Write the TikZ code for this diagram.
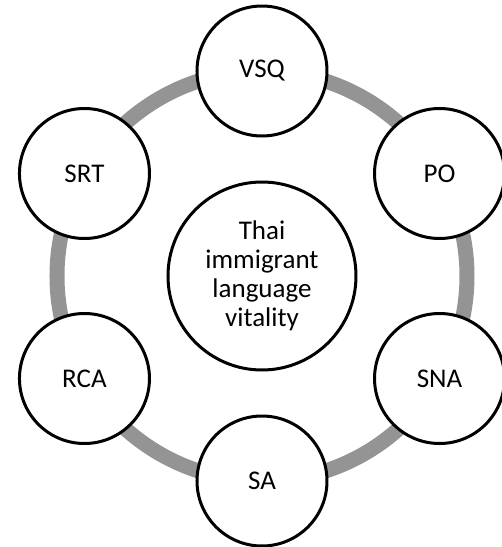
\documentclass[tikz,border=0pt]{standalone}
\usepackage{fontspec}
\setmainfont{Carlito}
\usepackage{tikz}

\tikzset{
  factor/.style={circle, draw, line width=3pt, fill=white, minimum size=130pt, inner sep=0pt,
    font=\fontsize{27}{29}\selectfont},
  core/.style={factor, minimum size=188pt, align=center},
  ring/.style={line width=15pt, color=black!42}
}

\begin{document}
\begin{tikzpicture}
		\useasboundingbox (-262pt,-271pt) rectangle (240pt,276pt);

		% Ring joining the factors
		\draw[ring] (0,0) circle (205pt);

		% Centre
		\node[core] (vitality) at (0,0) {Thai\\immigrant\\language\\vitality};

		% Factors around the ring
		\foreach \ang/\name in {90/VSQ, 30/PO, -30/SNA, -90/SA, -150/RCA, 150/SRT}{
		  \node[factor] (\name) at (\ang:205pt) {\name};
		}
	\end{tikzpicture}
\end{document}
